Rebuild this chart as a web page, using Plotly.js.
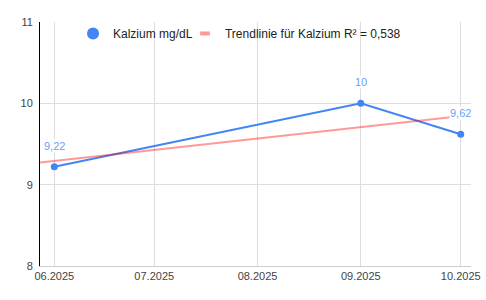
<!DOCTYPE html>
<html>
<head>
<meta charset="utf-8">
<script src="https://cdn.plot.ly/plotly-3.0.1.min.js"></script>
<style>html,body{margin:0;padding:0;background:#fff;}#chart{width:486px;height:300px;}</style>
</head>
<body>
<div id="chart"></div>
<script>
// Data
var dates = ['2025-06-01', '2025-09-01', '2025-10-01'];
var calcium = [9.22, 10, 9.62];
var tickDates = ['2025-06-01', '2025-07-01', '2025-08-01', '2025-09-01', '2025-10-01'];
var tickLabels = ['06.2025', '07.2025', '08.2025', '09.2025', '10.2025'];
var seriesName = 'Kalzium mg/dL';
var trendName = 'Trendlinie für Kalzium R² = 0,538';
var xRange = ['2025-05-27 17:00', '2025-10-04 02:00'];

// Linear regression (trendline) over time
var t = dates.map(function(d){ return new Date(d + 'T00:00:00Z').getTime(); });
var n = t.length, mx = 0, my = 0;
for (var i = 0; i < n; i++) { mx += t[i]; my += calcium[i]; }
mx /= n; my /= n;
var sxx = 0, sxy = 0;
for (var i = 0; i < n; i++) { sxx += (t[i]-mx)*(t[i]-mx); sxy += (t[i]-mx)*(calcium[i]-my); }
var slope = sxy / sxx, icpt = my - slope * mx;
var trendX = xRange;
var trendY = xRange.map(function(d){ var tm = new Date(d.replace(' ', 'T') + ':00Z').getTime(); return icpt + slope * tm; });

var blue = '#4285F4';
var trendColor = 'rgba(255,0,0,0.4)';

var traces = [
  { x: dates, y: calcium, type: 'scatter', mode: 'lines+markers', name: seriesName,
    line: {color: blue, width: 2}, marker: {color: blue, size: 7}, showlegend: false, hoverinfo: 'skip' },
  { x: trendX, y: trendY, type: 'scatter', mode: 'lines', name: trendName,
    line: {color: trendColor, width: 2}, showlegend: false, hoverinfo: 'skip' },
  { x: [null], y: [null], type: 'scatter', mode: 'markers', name: seriesName, legend: 'legend',
    marker: {color: blue, size: 12, symbol: 'circle'} },
  { x: [null], y: [null], type: 'scatter', mode: 'markers', name: trendName, legend: 'legend2',
    marker: {color: trendColor, size: 7, symbol: 'line-ew', line: {color: 'rgba(255,0,0,0.4)', width: 4}} }
];

var annotations = dates.map(function(d, i){
  return { x: d, y: calcium[i], xref: 'x', yref: 'y', text: String(calcium[i]).replace('.', ','),
    showarrow: false, yshift: 21, bgcolor: '#ffffff', borderpad: 0,
    font: {family: 'Liberation Sans, Arial, sans-serif', size: 11, color: '#6a9ff6'} };
});

var legendBase = {orientation: 'h', y: 0.953, yanchor: 'middle', xanchor: 'left',
  bgcolor: 'rgba(0,0,0,0)', font: {size: 12, color: '#222'}, itemclick: false};

var layout = {
  width: 486, height: 300,
  margin: {l: 40, r: 15, t: 22, b: 34, pad: 0},
  paper_bgcolor: '#fff', plot_bgcolor: '#fff',
  separators: ',.',
  font: {family: 'Liberation Sans, Arial, sans-serif', size: 11, color: '#444'},
  showlegend: true,
  legend: Object.assign({}, legendBase, {x: 0.0766}),
  legend2: Object.assign({}, legendBase, {x: 0.3364}),
  xaxis: {type: 'date', range: xRange, tickvals: tickDates, ticktext: tickLabels,
    showgrid: true, gridcolor: '#dddddd', gridwidth: 1, zeroline: false,
    showline: true, linecolor: '#cccccc', linewidth: 1, ticks: '',
    tickfont: {size: 11, color: '#444'}, fixedrange: true},
  yaxis: {range: [8, 11], tickvals: [8, 9, 10, 11], showgrid: true, gridcolor: '#dddddd',
    zeroline: false, showline: true, linecolor: '#000000', linewidth: 1, ticks: '',
    ticklabelstandoff: 4, tickfont: {size: 11, color: '#444'}, fixedrange: true},
  annotations: annotations
};

Plotly.newPlot('chart', traces, layout, {displayModeBar: false, staticPlot: true});
</script>
</body>
</html>
